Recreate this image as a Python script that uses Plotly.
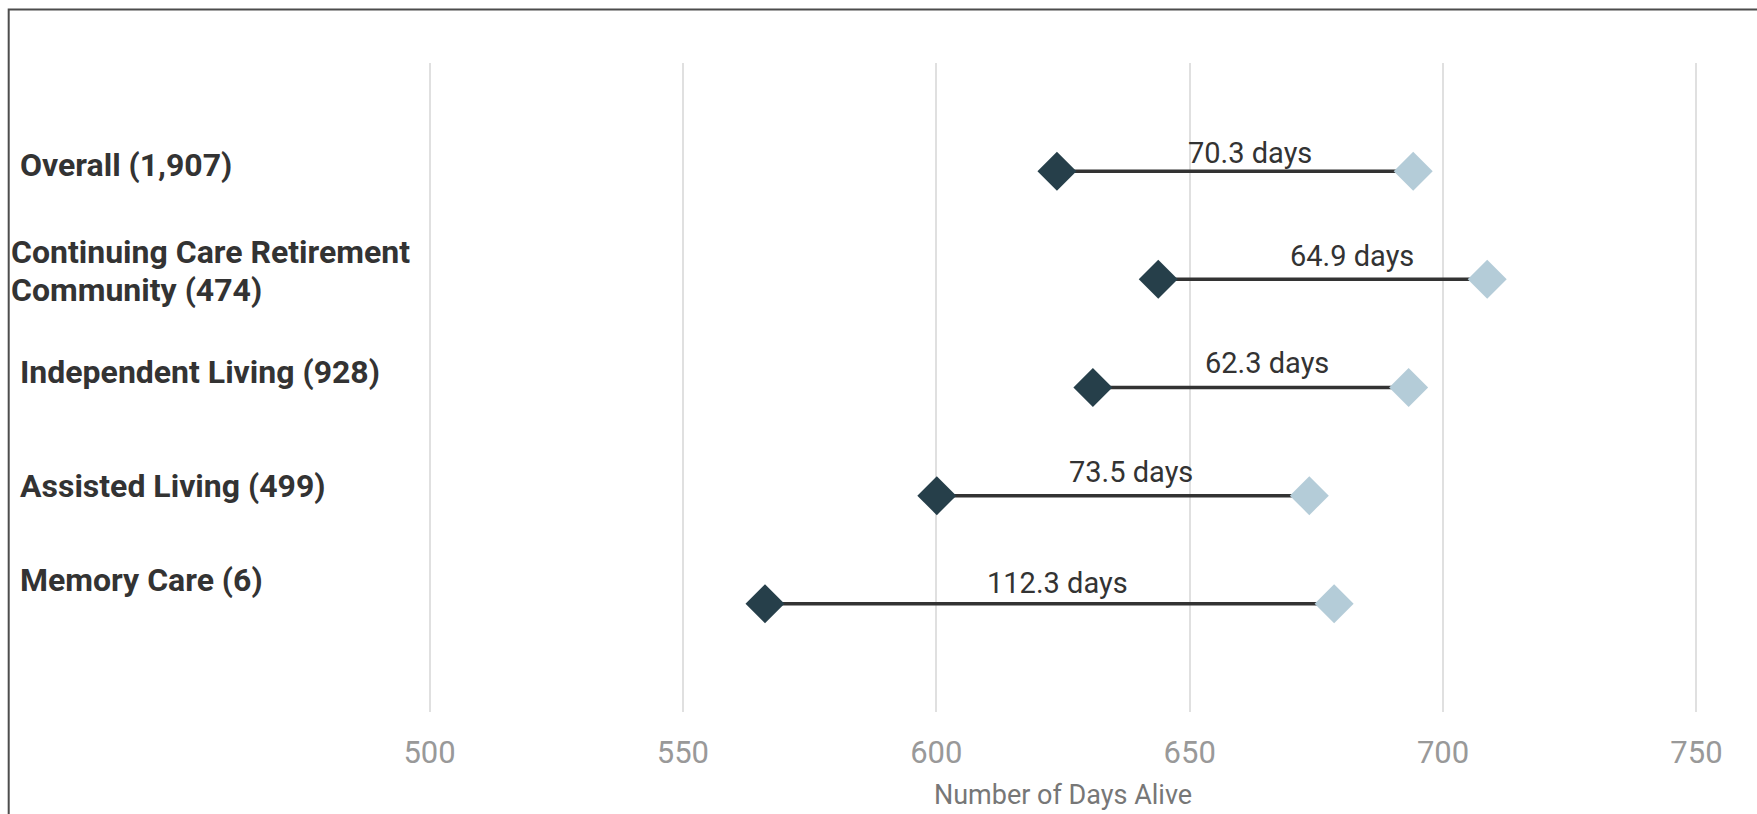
import plotly.graph_objects as go

# Data: days alive before (dark) and the gain in days (light = before + gain)
categories = [
    "Overall (1,907)",
    "Continuing Care Retirement<br>Community (474)",
    "Independent Living (928)",
    "Assisted Living (499)",
    "Memory Care (6)",
]
start_days = [623.8, 643.8, 630.9, 600.1, 566.2]
gain_days = [70.3, 64.9, 62.3, 73.5, 112.3]
end_days = [round(s + g, 1) for s, g in zip(start_days, gain_days)]
gain_labels = [f"{g:.1f} days" for g in gain_days]
x_ticks = [500, 550, 600, 650, 700, 750]

# Layout geometry (pixels)
W, H = 1757, 814
M_L, M_R, M_T, M_B = 426.5, 57.9, 63, 102
PLOT_W = W - M_L - M_R
PLOT_H = H - M_T - M_B
LABEL_LINE_GAP = 38

DARK = "#263f4a"
LIGHT = "#b4ccd8"
LINE = "#333333"
TEXT = "#333333"
FONT = "Roboto"

# per-row nudges for category labels and gain labels
label_yshift = [6, 8, 16, 10, 24]
gain_xshift = [15, 29, 16, 8, 8]
gain_yshift = [18, 23, 25, 24, 21]

ys = list(range(len(categories)))

fig = go.Figure()

# connecting segments
seg_x, seg_y = [], []
for i, (s, e) in enumerate(zip(start_days, end_days)):
    seg_x += [s, e, None]
    seg_y += [i, i, None]
fig.add_trace(go.Scatter(
    x=seg_x, y=seg_y, mode="lines",
    line=dict(color=LINE, width=3.5),
    hoverinfo="skip", showlegend=False,
))

fig.add_trace(go.Scatter(
    x=start_days, y=ys, mode="markers",
    marker=dict(symbol="diamond", size=30, color=DARK, line=dict(width=0)),
    showlegend=False,
))
fig.add_trace(go.Scatter(
    x=end_days, y=ys, mode="markers",
    marker=dict(symbol="diamond", size=30, color=LIGHT, line=dict(width=0)),
    showlegend=False,
))

annotations = []
for i, (cat, s, e, lab) in enumerate(zip(categories, start_days, end_days, gain_labels)):
    annotations.append(dict(
        x=(s + e) / 2, y=i, xref="x", yref="y",
        text=lab, showarrow=False,
        xanchor="center", yanchor="middle",
        xshift=gain_xshift[i], yshift=gain_yshift[i],
        font=dict(family=FONT, size=29, color=TEXT),
    ))
    lines = cat.split("<br>")
    n = len(lines)
    x_left = (8 if n > 1 else 17) - M_L
    for k, part in enumerate(lines):
        offset = ((n - 1) / 2 - k) * LABEL_LINE_GAP
        annotations.append(dict(
            x=0, y=i, xref="paper", yref="y",
            text=f"<b>{part}</b>", showarrow=False,
            xanchor="left", yanchor="middle", align="left",
            xshift=x_left, yshift=label_yshift[i] + offset,
            font=dict(family=FONT, size=32, color=TEXT),
        ))

fig.update_layout(
    width=W, height=H,
    margin=dict(l=M_L, r=M_R, t=M_T, b=M_B, pad=0, autoexpand=False),
    paper_bgcolor="white", plot_bgcolor="white",
    showlegend=False,
    annotations=annotations,
    xaxis=dict(
        range=[499.5, 750.5],
        tickvals=x_ticks,
        ticktext=[str(t) for t in x_ticks],
        showgrid=True, gridcolor="#e0e0e0", gridwidth=1.5,
        zeroline=False, showline=False, ticks="",
        automargin=False,
        ticklabelstandoff=19,
        tickfont=dict(family=FONT, size=31, color="#999999"),
        title=dict(text="Number of Days Alive", standoff=15,
                   font=dict(family=FONT, size=27, color="#777777")),
    ),
    yaxis=dict(
        range=[5, -1],
        showgrid=False, zeroline=False, showline=False,
        showticklabels=False, ticks="", automargin=False,
    ),
    shapes=[dict(
        type="rect", xref="paper", yref="paper", layer="above",
        x0=(8 - M_L) / PLOT_W, x1=(W + 20 - M_L) / PLOT_W,
        y0=-(M_B + 20) / PLOT_H, y1=1 + (M_T - 9.5) / PLOT_H,
        line=dict(color="#4d4d4d", width=2),
    )],
)

fig.write_html("out.html")
